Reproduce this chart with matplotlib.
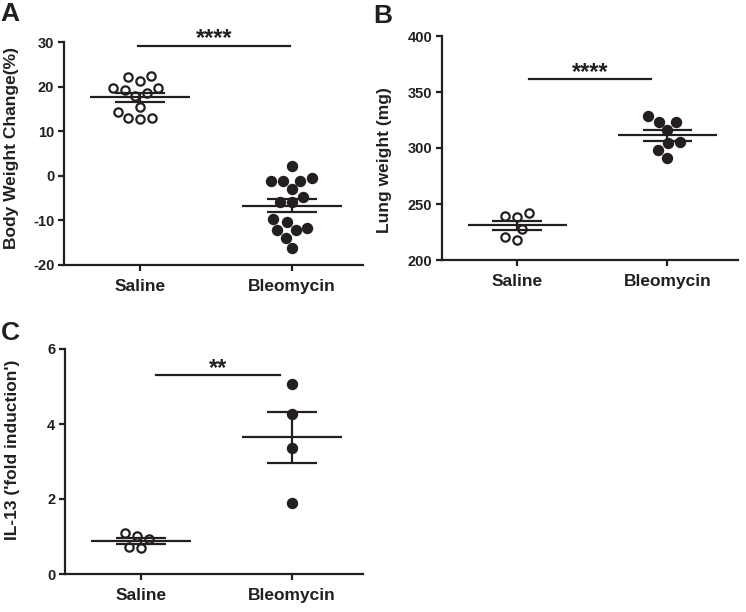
import numpy as np
import matplotlib
matplotlib.use('Agg')
import matplotlib.pyplot as plt

plt.rcParams['font.family'] = ['Liberation Sans', 'DejaVu Sans']
plt.rcParams['font.weight'] = 'bold'
plt.rcParams['axes.unicode_minus'] = False

# data
categories = ['Saline', 'Bleomycin']

bw_saline = [21.3, 22.4, 22.1, 19.6, 18.6, 17.9, 19.2, 19.6, 15.4, 14.4, 12.9, 12.7, 12.9]
bw_bleo = [2.3, -1.1, -1.1, -1.1, -0.6, -3.0, -4.8, -5.9, -5.8, -10.3, -9.7,
           -12.2, -12.2, -11.6, -13.9, -16.3]

lung_saline = [239.5, 238.6, 241.6, 227.6, 217.8, 220.2]
lung_bleo = [323.3, 328.4, 323.3, 315.9, 305.5, 304.6, 298.1, 291.2]

il13_saline = [1.09, 1.01, 0.94, 0.70, 0.71]
il13_bleo = [5.07, 4.27, 3.35, 1.89]

INK = '#231f20'
W, H = 746, 612

fig = plt.figure(figsize=(W / 100, H / 100), dpi=100)


def swarm(ax, values, x0, diam):
    # simple beeswarm in pixel space, returns x positions in data units
    pos = ax.get_position()
    xl, yl = ax.get_xlim(), ax.get_ylim()
    sx = pos.width * W / (xl[1] - xl[0])
    sy = pos.height * H / (yl[1] - yl[0])
    ys = np.asarray(values) * sy
    offs = np.zeros(len(values))
    placed = []
    for i in np.argsort(values):
        blocked = []
        for j in placed:
            dy = ys[i] - ys[j]
            if abs(dy) < diam:
                w = np.sqrt(diam ** 2 - dy ** 2)
                blocked.append((offs[j] - w, offs[j] + w))
        cands = [0.0] + [e for b in blocked for e in b]
        cands.sort(key=lambda c: (round(abs(c), 6), c))
        for c in cands:
            if all(not (lo + 1e-6 < c < hi - 1e-6) for lo, hi in blocked):
                offs[i] = c
                break
        placed.append(i)
    return x0 + offs / sx


def panel(rect, saline, bleo, ylim, yticks, ylabel, ylab_pos, bar, stars,
          letter, letter_px):
    ax = fig.add_axes(rect)
    ax.set_xlim(-0.5, 1.47)
    ax.set_ylim(*ylim)

    for i, vals in enumerate([saline, bleo]):
        xs = swarm(ax, vals, i, 12)
        if i == 0:
            ax.plot(xs, vals, 'o', ms=6, mfc='white', mec=INK, mew=1.6,
                    ls='none', zorder=2, clip_on=False)
        else:
            ax.plot(xs, vals, 'o', ms=8.2, color=INK, mew=0,
                    ls='none', zorder=2, clip_on=False)
        m = np.mean(vals)
        sem = np.std(vals, ddof=1) / np.sqrt(len(vals))
        ax.hlines(m, i - 0.33, i + 0.33, color=INK, lw=1.6, zorder=3)
        ax.hlines([m - sem, m + sem], i - 0.165, i + 0.165, color=INK, lw=1.6, zorder=3)
        ax.vlines(i, m - sem, m + sem, color=INK, lw=1.6, zorder=3)

    # significance bar
    ax.plot([bar[0], bar[1]], [bar[2], bar[2]], color=INK, lw=1.6, clip_on=False)
    ax.annotate(stars, xy=((bar[0] + bar[1]) / 2, bar[2]), xytext=(0, 0.5),
                textcoords='offset points', ha='center', va='baseline',
                fontsize=17, fontweight='bold', color=INK)

    for s in ['top', 'right']:
        ax.spines[s].set_visible(False)
    for s in ['left', 'bottom']:
        ax.spines[s].set_linewidth(1.6)
        ax.spines[s].set_color(INK)
    ax.set_yticks(yticks)
    ax.set_xticks([0, 1])
    ax.set_xticklabels(categories)
    ax.tick_params(axis='both', direction='out', length=4, width=1.6, color=INK)
    ax.tick_params(axis='y', labelsize=10.5, pad=3, labelcolor=INK)
    ax.tick_params(axis='x', labelsize=12.5, pad=6, labelcolor=INK)

    ax.text(ylab_pos[0], ylab_pos[1], ylabel, rotation=90, ha='center', va='center',
            transform=ax.transAxes, fontsize=12.5, color=INK)
    fig.text(letter_px[0] / W, 1 - letter_px[1] / H, letter, ha='left', va='top',
             fontsize=19, fontweight='bold', color=INK)
    return ax


panel([64 / W, 1 - 265 / H, 299 / W, 223 / H], bw_saline, bw_bleo,
      (-20, 30), [-20, -10, 0, 10, 20, 30], 'Body Weight Change(%)',
      (-0.174, 0.525), (-0.01, 0.99, 29.2), '****', 'A', (0, 2))

panel([442 / W, 1 - 260 / H, 296 / W, 224 / H], lung_saline, lung_bleo,
      (200, 400), [200, 250, 300, 350, 400], 'Lung weight (mg)',
      (-0.193, 0.446), (0.08, 0.89, 361.4), '****', 'B', (373, 4))

panel([65 / W, 1 - 574 / H, 298 / W, 225 / H], il13_saline, il13_bleo,
      (0, 6), [0, 2, 4, 6], "IL-13 ('fold induction')",
      (-0.176, 0.551), (0.1, 0.92, 5.30), '**', 'C', (1, 321))

fig.savefig('out.png', dpi=100)
